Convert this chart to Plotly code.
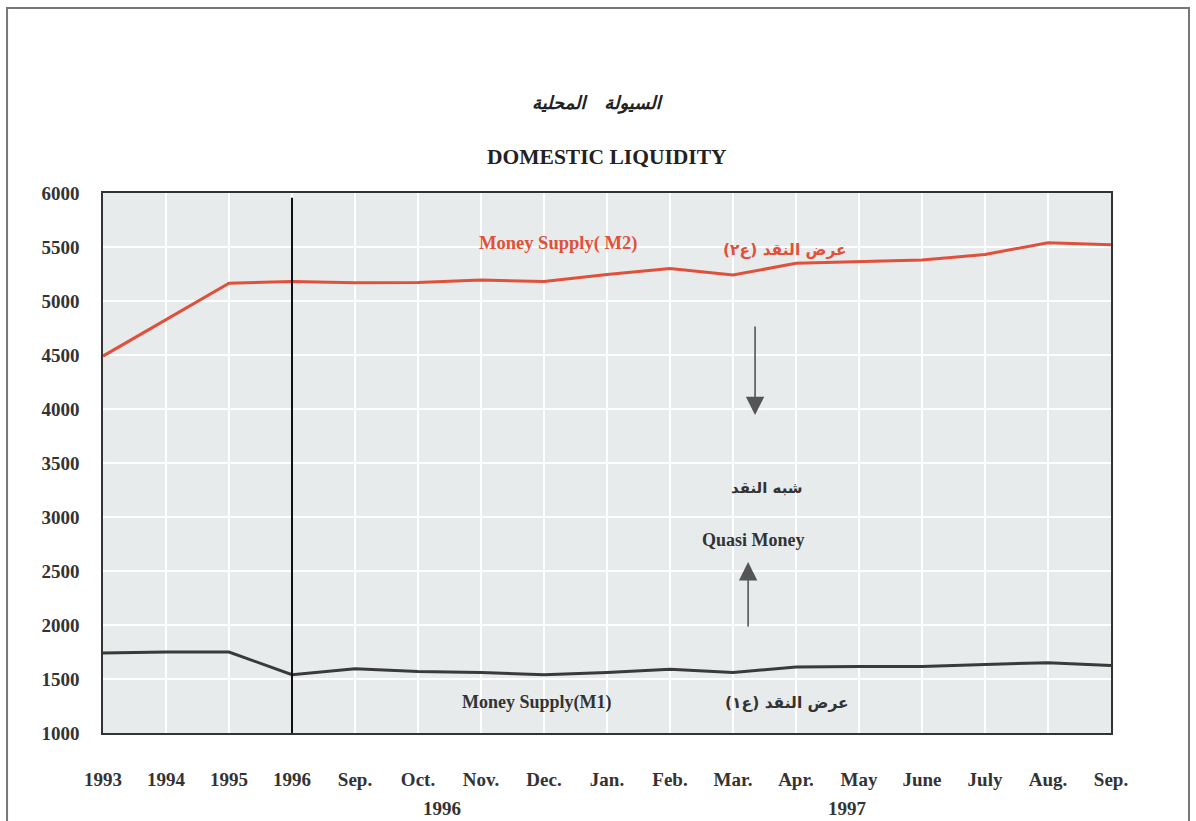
import plotly.graph_objects as go

# ---- data ----
tick_labels = ["1993", "1994", "1995", "1996", "Sep.", "Oct.", "Nov.", "Dec.",
               "Jan.", "Feb.", "Mar.", "Apr.", "May", "June", "July", "Aug.", "Sep."]
m2_values = [4490, 4830, 5165, 5180, 5170, 5172, 5195, 5180, 5245, 5300,
             5240, 5350, 5362, 5380, 5430, 5540, 5520]
m1_values = [1740, 1750, 1750, 1540, 1595, 1570, 1560, 1540, 1560, 1590,
             1560, 1610, 1615, 1615, 1635, 1650, 1625]
y_ticks = [1000, 1500, 2000, 2500, 3000, 3500, 4000, 4500, 5000, 5500, 6000]

x_pos = list(range(len(tick_labels)))

SERIF = "Liberation Serif, Times New Roman, serif"
ARAB = "DejaVu Sans, Noto Sans, sans-serif"
RED = "#e0503a"
DARK = "#333333"

fig = go.Figure()
fig.add_trace(go.Scatter(x=x_pos, y=m2_values, mode="lines",
                         line=dict(color=RED, width=3), hoverinfo="skip"))
fig.add_trace(go.Scatter(x=x_pos, y=m1_values, mode="lines",
                         line=dict(color="#3a3a3a", width=3), hoverinfo="skip"))

# vertical separator at 1996
fig.add_shape(type="line", xref="x", yref="y", x0=3, x1=3, y0=1000, y1=5955,
              line=dict(color="#111111", width=2))

# page frame
fig.add_shape(type="rect", xref="paper", yref="paper",
              x0=-0.0952, x1=1.0774, y0=-0.25, y1=1.3426,
              line=dict(color="#777777", width=2), layer="below")

ann = []
def txt(t, x, y, size, color=DARK, font=SERIF, xref="x", yref="y", weight="bold", style="normal"):
    ann.append(dict(text=t, x=x, y=y, xref=xref, yref=yref, showarrow=False,
                    font=dict(family=font, size=size, color=color, weight=weight, style=style),
                    xanchor="center", yanchor="middle"))

txt("السيولة   المحلية", 0.491, 1.1667, 18, color="#222222", font=ARAB,
    xref="paper", yref="paper", style="italic")
txt("DOMESTIC LIQUIDITY", 0.5, 1.0667, 21.5, color="#222222", xref="paper", yref="paper")
txt("Money Supply( M2)", 7.22, 5537, 18.5, color=RED)
txt("عرض النقد (ع٢)", 10.83, 5472, 15.5, color=RED, font=ARAB)
txt("شبه النقد", 10.54, 3269, 15, font=ARAB)
txt("Quasi Money", 10.32, 2787, 18)
txt("Money Supply(M1)", 6.89, 1278, 18)
txt("عرض النقد (ع١)", 10.86, 1278, 15.5, font=ARAB)
txt("1996", 0.336, -0.139, 19, xref="paper", yref="paper")
txt("1997", 0.739, -0.139, 19, xref="paper", yref="paper")

# arrows
ann.append(dict(x=10.35, y=3944, ax=10.35, ay=4778, xref="x", yref="y",
                axref="x", ayref="y", showarrow=True, arrowhead=2, arrowsize=2.3,
                arrowwidth=1.6, arrowcolor="#555555", text=""))
ann.append(dict(x=10.24, y=2583, ax=10.24, ay=1972, xref="x", yref="y",
                axref="x", ayref="y", showarrow=True, arrowhead=2, arrowsize=2.3,
                arrowwidth=1.6, arrowcolor="#555555", text=""))

fig.update_layout(
    width=1196, height=821,
    margin=dict(l=103, r=85, t=193, b=88),
    paper_bgcolor="white",
    plot_bgcolor="#e7ebec",
    showlegend=False,
    annotations=ann,
    xaxis=dict(range=[0, 16], tickvals=x_pos, ticktext=tick_labels,
               showgrid=True, gridcolor="white", gridwidth=2,
               showline=True, linecolor="#333333", linewidth=1.5, mirror=True,
               zeroline=False, ticks="", ticklabelstandoff=28,
               tickfont=dict(family=SERIF, size=19, color=DARK, weight="bold")),
    yaxis=dict(range=[1000, 6000], tickvals=y_ticks,
               showgrid=True, gridcolor="white", gridwidth=2,
               showline=True, linecolor="#333333", linewidth=1.5, mirror=True,
               zeroline=False, ticks="", ticklabelstandoff=18,
               tickfont=dict(family=SERIF, size=19, color=DARK, weight="bold")),
)

fig.write_html("out.html", config={"displayModeBar": False},
               post_script="document.body.style.margin='0';document.body.style.overflow='hidden';")
